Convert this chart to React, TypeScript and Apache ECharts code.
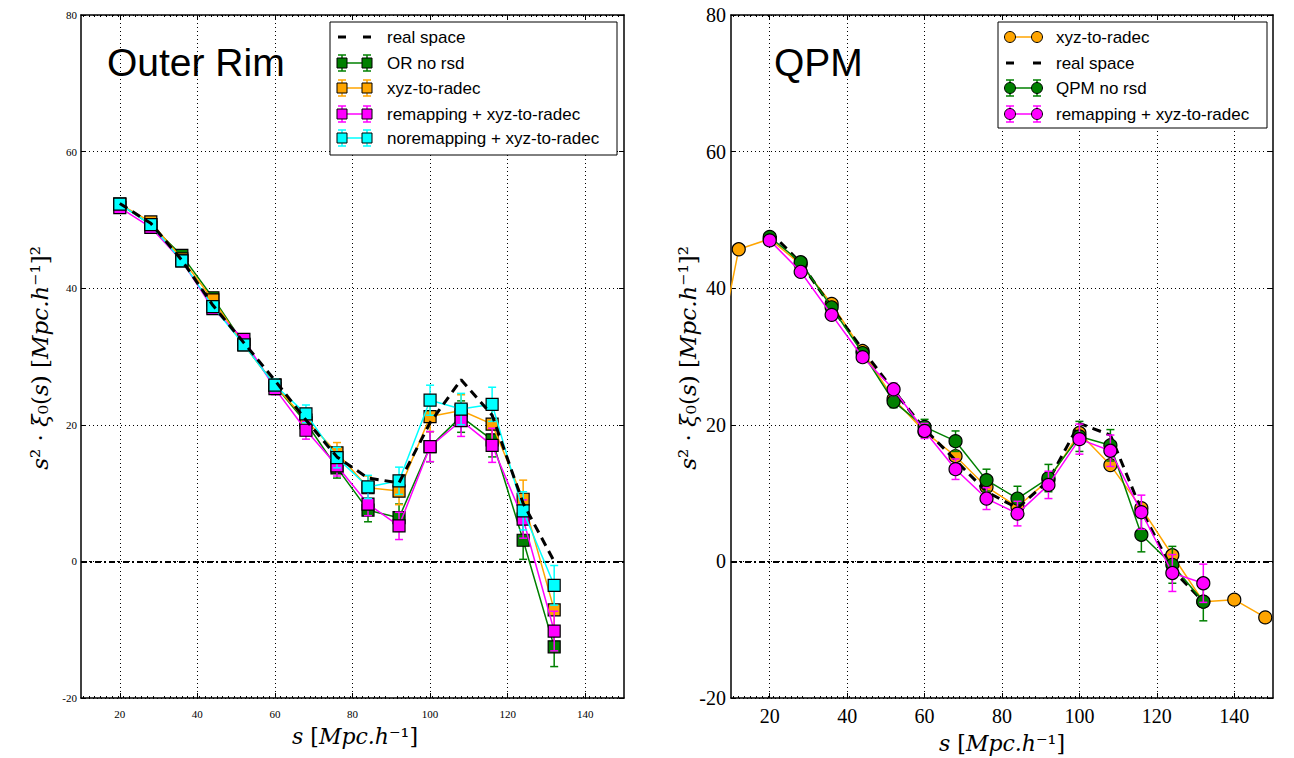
import React, { useEffect, useRef } from "react";
import * as echarts from "echarts";

// ---------- data ----------
const sL = [20, 28, 36, 44, 52, 60, 68, 76, 84, 92, 100, 108, 116, 124, 132];
const realL = [52.4, 49.5, 44.1, 37.5, 32.0, 26.5, 20.7, 15.3, 12.2, 11.5, 20.3, 26.6, 21.4, 8.5, 0.0];
const orNoRsdL = [52.3, 49.3, 44.8, 38.6, 31.8, 25.8, 20.3, 13.7, 7.5, 6.4, 16.8, 21.2, 17.8, 3.1, -12.5];
const xyzL = [52.3, 49.7, 44.3, 38.3, 31.7, 25.8, 20.7, 15.9, 10.8, 10.3, 21.2, 22.1, 20.1, 9.1, -7.1];
const remapL = [51.8, 48.9, 44.0, 37.0, 32.5, 25.3, 19.2, 14.0, 8.4, 5.2, 16.8, 20.6, 17.0, 6.2, -10.2];
const noremapL = [52.3, 49.3, 44.0, 37.3, 31.7, 25.8, 21.6, 15.2, 10.9, 11.8, 23.6, 22.3, 23.0, 7.4, -3.5];
const errL = [0.3, 0.4, 0.5, 0.6, 0.8, 0.9, 1.3, 1.5, 1.7, 2.0, 2.2, 2.3, 2.5, 2.8, 2.9];

const sR = [20, 28, 36, 44, 52, 60, 68, 76, 84, 92, 100, 108, 116, 124, 132];
const sRxyz = [4, 12, 20, 28, 36, 44, 52, 60, 68, 76, 84, 92, 100, 108, 116, 124, 132, 140, 148];
const xyzR = [23.0, 45.7, 47.2, 43.5, 37.7, 30.8, 23.8, 19.0, 15.4, 10.9, 8.0, 11.9, 18.8, 14.1, 7.8, 0.9, -5.9, -5.6, -8.2];
const realR = [48.3, 43.7, 37.2, 31.0, 25.0, 19.4, 14.8, 10.2, 7.8, 11.8, 20.2, 18.5, 7.5, -1.2, -5.9];
const qpmNoRsdR = [47.5, 43.8, 37.2, 30.5, 23.4, 19.7, 17.6, 11.9, 9.2, 12.2, 18.3, 17.0, 3.9, -0.5, -5.9];
const remapR = [47.0, 42.4, 36.1, 29.9, 25.2, 19.1, 13.5, 9.2, 7.0, 11.2, 17.9, 16.2, 7.2, -1.7, -3.2];
const errR = [0.4, 0.5, 0.6, 0.7, 0.9, 1.1, 1.5, 1.6, 1.8, 2.0, 2.2, 2.3, 2.5, 2.7, 2.8];

const xTicks = [20, 40, 60, 80, 100, 120, 140];

const GREEN = "#008000";
const ORANGE = "#FFA500";
const MAGENTA = "#FF00FF";
const CYAN = "#00FFFF";

const SERIF = "'DejaVu Serif', serif";
const TICKSERIF = "'Liberation Serif', serif";
const SANS = "'Liberation Sans', Arial, sans-serif";

function pairs(xs: number[], ys: number[]) {
  return xs.map((x, i) => [x, ys[i]]);
}
function triples(xs: number[], ys: number[], es: number[]) {
  return xs.map((x, i) => [x, ys[i], es[i]]);
}

function errRender(color: string) {
  return (params: any, api: any) => {
    const x = api.value(0);
    const y = api.value(1);
    const e = api.value(2);
    const p1 = api.coord([x, y + e]);
    const p2 = api.coord([x, y - e]);
    const cw = 4;
    const style = { stroke: color, lineWidth: 1.5 };
    return {
      type: "group",
      children: [
        { type: "line", shape: { x1: p1[0], y1: p1[1], x2: p2[0], y2: p2[1] }, style },
        { type: "line", shape: { x1: p1[0] - cw, y1: p1[1], x2: p1[0] + cw, y2: p1[1] }, style },
        { type: "line", shape: { x1: p2[0] - cw, y1: p2[1], x2: p2[0] + cw, y2: p2[1] }, style },
      ],
    };
  };
}

function errSeries(name: string, xs: number[], ys: number[], es: number[], color: string, xi: number, yi: number, z: number) {
  return {
    type: "custom",
    name: name + " err",
    xAxisIndex: xi,
    yAxisIndex: yi,
    renderItem: errRender(color),
    encode: { x: 0, y: 1 },
    data: triples(xs, ys, es),
    clip: true,
    z,
    silent: true,
  };
}

function lineSeries(name: string, xs: number[], ys: number[], color: string, symbol: string, xi: number, yi: number, z: number) {
  return {
    type: "line",
    name,
    xAxisIndex: xi,
    yAxisIndex: yi,
    data: pairs(xs, ys),
    symbol,
    symbolSize: symbol === "rect" ? 12 : 13,
    showSymbol: true,
    lineStyle: { color, width: 1.5 },
    itemStyle: { color, borderColor: "#000", borderWidth: 1.2, opacity: 1 },
    clip: true,
    z,
    silent: true,
  };
}

function dashedSeries(name: string, xs: number[], ys: number[], xi: number, yi: number, z: number) {
  return {
    type: "line",
    name,
    xAxisIndex: xi,
    yAxisIndex: yi,
    data: pairs(xs, ys),
    symbol: "none",
    lineStyle: { color: "#000", width: 3, type: [9, 6] },
    clip: true,
    z,
    silent: true,
    markLine: {
      silent: true,
      symbol: ["none", "none"],
      label: { show: false },
      lineStyle: { color: "#000", width: 1.8, type: [6, 3, 2, 3] },
      data: [{ yAxis: 0 }],
      z: 1,
    },
  };
}

function xAxisDef(gi: number, labelSize: number, top: boolean) {
  return {
    type: "value",
    gridIndex: gi,
    position: top ? "top" : "bottom",
    min: 10,
    max: 150,
    axisLine: { show: true, onZero: false, lineStyle: { color: "#000", width: 1.5 } },
    axisTick: { show: true, inside: true, length: 5, customValues: xTicks, lineStyle: { color: "#000" } },
    minorTick: { show: true, splitNumber: 20, length: 2, lineStyle: { color: "#000" } },
    axisLabel: top
      ? { show: false }
      : { show: true, customValues: xTicks, fontSize: labelSize, color: "#000", fontFamily: TICKSERIF, margin: labelSize > 14 ? 8 : 10 },
    splitLine: top ? { show: false } : { show: true, lineStyle: { color: "#000", type: [1, 3], width: 1 } },
  };
}

function yAxisDef(gi: number, labelSize: number, right: boolean) {
  return {
    type: "value",
    gridIndex: gi,
    position: right ? "right" : "left",
    min: -20,
    max: 80,
    interval: 20,
    axisLine: { show: true, onZero: false, lineStyle: { color: "#000", width: 1.5 } },
    axisTick: { show: true, inside: true, length: 5, lineStyle: { color: "#000" } },
    axisLabel: right
      ? { show: false }
      : { show: true, fontSize: labelSize, color: "#000", fontFamily: TICKSERIF, margin: labelSize > 14 ? 5 : 4 },
    splitLine: right ? { show: false } : { show: true, lineStyle: { color: "#000", type: [1, 3], width: 1 } },
  };
}

function legendErrEntry(x1: number, x2: number, y: number, color: string, shape: "rect" | "circle", withErr: boolean): any[] {
  const els: any[] = [];
  els.push({ type: "line", shape: { x1, y1: y, x2, y2: y }, style: { stroke: color, lineWidth: 1.5 }, z: 101 });
  [x1, x2].forEach((x) => {
    if (withErr) {
      const st = { stroke: color, lineWidth: 1.5 };
      els.push({ type: "line", shape: { x1: x, y1: y - 8, x2: x, y2: y + 8 }, style: st, z: 101 });
      els.push({ type: "line", shape: { x1: x - 4, y1: y - 8, x2: x + 4, y2: y - 8 }, style: st, z: 101 });
      els.push({ type: "line", shape: { x1: x - 4, y1: y + 8, x2: x + 4, y2: y + 8 }, style: st, z: 101 });
    }
    if (shape === "rect") {
      els.push({ type: "rect", shape: { x: x - 5, y: y - 5, width: 10, height: 10 }, style: { fill: color, stroke: "#000", lineWidth: 1 }, z: 102 });
    } else {
      els.push({ type: "circle", shape: { cx: x, cy: y, r: 5.5 }, style: { fill: color, stroke: "#000", lineWidth: 1 }, z: 102 });
    }
  });
  return els;
}

function legendDashEntry(x1: number, x2: number, y: number): any[] {
  return [
    { type: "rect", shape: { x: x1 - 4, y: y - 1.5, width: 8, height: 3 }, style: { fill: "#000" }, z: 101 },
    { type: "rect", shape: { x: x2 - 4, y: y - 1.5, width: 8, height: 3 }, style: { fill: "#000" }, z: 101 },
  ];
}

function legendText(x: number, y: number, text: string): any {
  return {
    type: "text",
    x,
    y,
    style: { text, fontSize: 17, fontFamily: SANS, fill: "#000", textVerticalAlign: "middle", textAlign: "left" },
    z: 103,
  };
}

const richStyles = {
  i: { fontFamily: SERIF, fontStyle: "italic", fontSize: 22, fill: "#000" },
  u: { fontFamily: SERIF, fontSize: 22, fill: "#000" },
};
const richStylesY = {
  i: { fontFamily: SERIF, fontStyle: "italic", fontSize: 23, fill: "#000" },
  u: { fontFamily: SERIF, fontSize: 23, fill: "#000" },
};

const xTitle = "{i|s}{u| [}{i|Mpc.h}{u|⁻¹]}";
const yTitle = "{i|s}{u|² · }{i|ξ}{u|₀(}{i|s}{u|) [}{i|Mpc.h}{u|⁻¹]²}";

export default function App() {
  const ref = useRef<HTMLDivElement>(null);
  useEffect(() => {
    if (!ref.current) return;
    const chart = echarts.init(ref.current, null, { renderer: "svg" });

    const graphics: any[] = [];
    // Panel titles
    graphics.push({ type: "text", x: 107, y: 62, style: { text: "Outer Rim", fontSize: 39, fontFamily: SANS, fill: "#000", textVerticalAlign: "middle" }, z: 100 });
    graphics.push({ type: "text", x: 774, y: 62, style: { text: "QPM", fontSize: 39, fontFamily: SANS, fill: "#000", textVerticalAlign: "middle" }, z: 100 });
    // Axis titles
    graphics.push({ type: "text", x: 355, y: 736, style: { text: xTitle, rich: richStyles, textAlign: "center", textVerticalAlign: "middle" }, z: 100 });
    graphics.push({ type: "text", x: 1002, y: 743, style: { text: xTitle, rich: richStyles, textAlign: "center", textVerticalAlign: "middle" }, z: 100 });
    graphics.push({ type: "text", x: 40, y: 358, rotation: Math.PI / 2, style: { text: yTitle, rich: richStylesY, textAlign: "center", textVerticalAlign: "middle" }, z: 100 });
    graphics.push({ type: "text", x: 688, y: 358, rotation: Math.PI / 2, style: { text: yTitle, rich: richStylesY, textAlign: "center", textVerticalAlign: "middle" }, z: 100 });

    // Left legend
    graphics.push({ type: "rect", shape: { x: 330, y: 22, width: 287, height: 133 }, style: { fill: "#fff", stroke: "#000", lineWidth: 1 }, z: 100 });
    const lrows = [37, 63, 88, 114, 138];
    graphics.push(...legendDashEntry(342, 367, lrows[0]));
    graphics.push(legendText(387, lrows[0], "real space"));
    graphics.push(...legendErrEntry(342, 367, lrows[1], GREEN, "rect", true));
    graphics.push(legendText(387, lrows[1], "OR no rsd"));
    graphics.push(...legendErrEntry(342, 367, lrows[2], ORANGE, "rect", true));
    graphics.push(legendText(387, lrows[2], "xyz-to-radec"));
    graphics.push(...legendErrEntry(342, 367, lrows[3], MAGENTA, "rect", true));
    graphics.push(legendText(387, lrows[3], "remapping + xyz-to-radec"));
    graphics.push(...legendErrEntry(342, 367, lrows[4], CYAN, "rect", true));
    graphics.push(legendText(387, lrows[4], "noremapping + xyz-to-radec"));

    // Right legend
    graphics.push({ type: "rect", shape: { x: 998, y: 22, width: 269, height: 106 }, style: { fill: "#fff", stroke: "#000", lineWidth: 1 }, z: 100 });
    const rrows = [37, 63, 88, 114];
    graphics.push(...legendErrEntry(1010, 1037, rrows[0], ORANGE, "circle", false));
    graphics.push(legendText(1056, rrows[0], "xyz-to-radec"));
    graphics.push(...legendDashEntry(1010, 1037, rrows[1]));
    graphics.push(legendText(1056, rrows[1], "real space"));
    graphics.push(...legendErrEntry(1010, 1037, rrows[2], GREEN, "circle", true));
    graphics.push(legendText(1056, rrows[2], "QPM no rsd"));
    graphics.push(...legendErrEntry(1010, 1037, rrows[3], MAGENTA, "circle", true));
    graphics.push(legendText(1056, rrows[3], "remapping + xyz-to-radec"));

    const option: any = {
      animation: false,
      backgroundColor: "#fff",
      grid: [
        { left: 81, top: 15, width: 543, height: 683, show: false },
        { left: 731, top: 15, width: 542, height: 683, show: false },
      ],
      xAxis: [xAxisDef(0, 11, false), xAxisDef(0, 11, true), xAxisDef(1, 20, false), xAxisDef(1, 20, true)],
      yAxis: [yAxisDef(0, 11, false), yAxisDef(0, 11, true), yAxisDef(1, 20, false), yAxisDef(1, 20, true)],
      series: [
        // Left panel
        errSeries("OR no rsd", sL, orNoRsdL, errL, GREEN, 0, 0, 10),
        lineSeries("OR no rsd", sL, orNoRsdL, GREEN, "rect", 0, 0, 11),
        errSeries("xyz-to-radec", sL, xyzL, errL, ORANGE, 0, 0, 12),
        lineSeries("xyz-to-radec", sL, xyzL, ORANGE, "rect", 0, 0, 13),
        errSeries("remapping + xyz-to-radec", sL, remapL, errL, MAGENTA, 0, 0, 14),
        lineSeries("remapping + xyz-to-radec", sL, remapL, MAGENTA, "rect", 0, 0, 15),
        errSeries("noremapping + xyz-to-radec", sL, noremapL, errL, CYAN, 0, 0, 16),
        lineSeries("noremapping + xyz-to-radec", sL, noremapL, CYAN, "rect", 0, 0, 17),
        dashedSeries("real space", sL, realL, 0, 0, 18),
        // Right panel
        lineSeries("xyz-to-radec R", sRxyz, xyzR, ORANGE, "circle", 2, 2, 10),
        dashedSeries("real space R", sR, realR, 2, 2, 11),
        errSeries("QPM no rsd", sR, qpmNoRsdR, errR, GREEN, 2, 2, 12),
        lineSeries("QPM no rsd", sR, qpmNoRsdR, GREEN, "circle", 2, 2, 13),
        errSeries("remapping + xyz-to-radec R", sR, remapR, errR, MAGENTA, 2, 2, 14),
        lineSeries("remapping + xyz-to-radec R", sR, remapR, MAGENTA, "circle", 2, 2, 15),
      ],
      graphic: graphics,
    };
    chart.setOption(option);
    return () => chart.dispose();
  }, []);
  return (
    <div
      ref={ref}
      style={{ position: "absolute", left: 0, top: 0, width: 1294, height: 758, background: "#fff" }}
    />
  );
}
